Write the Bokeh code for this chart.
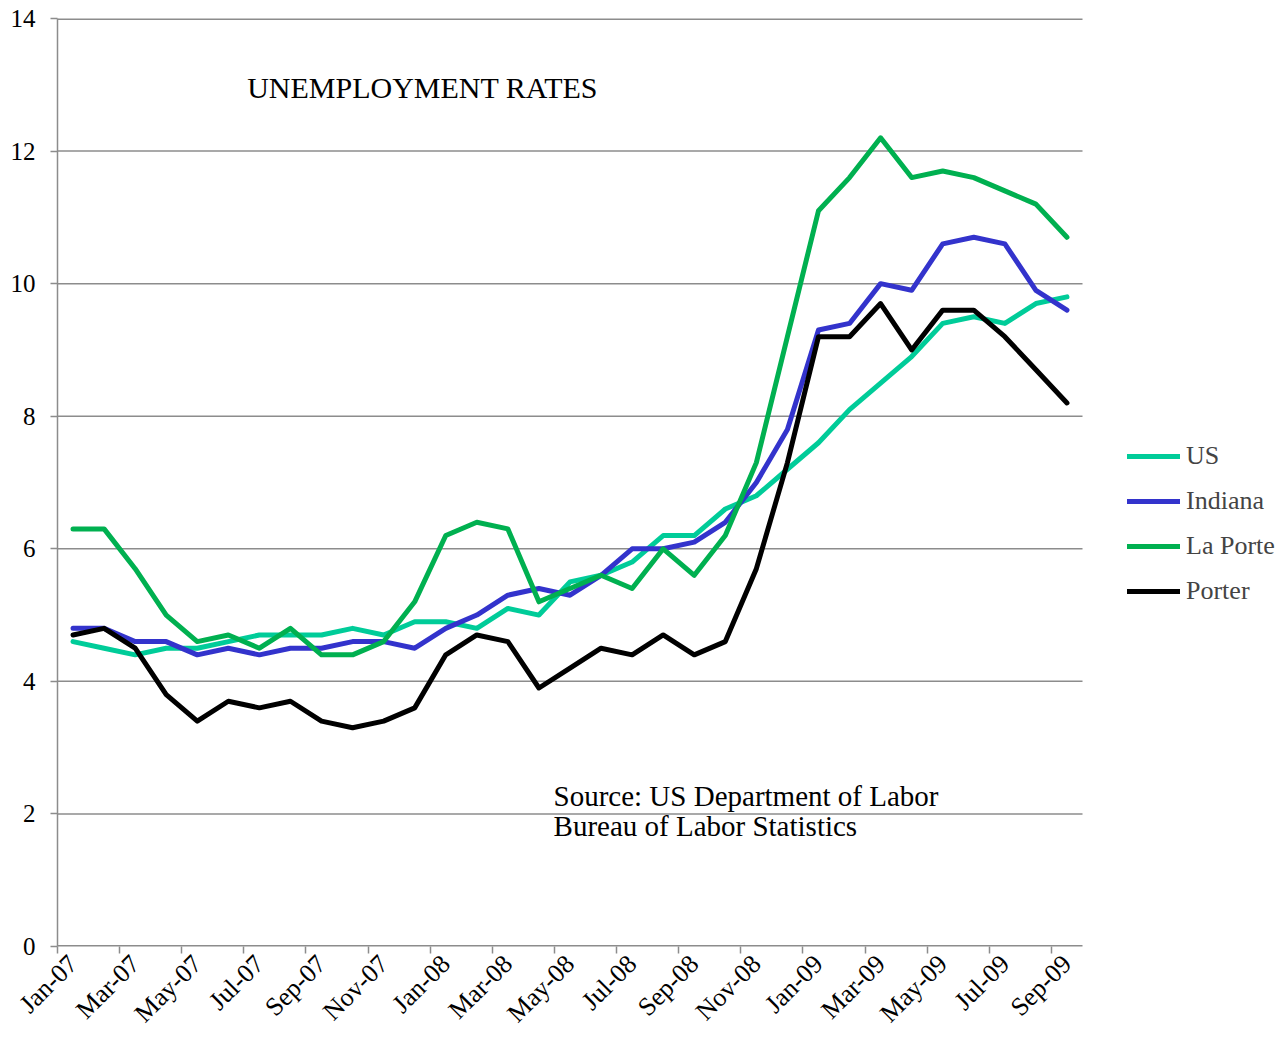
from math import pi
from bokeh.plotting import figure
from bokeh.models import Range1d, FixedTicker, Legend, LegendItem, Label
from bokeh.embed import file_html
from bokeh.resources import INLINE

months = ["Jan-07", "Feb-07", "Mar-07", "Apr-07", "May-07", "Jun-07", "Jul-07", "Aug-07",
          "Sep-07", "Oct-07", "Nov-07", "Dec-07", "Jan-08", "Feb-08", "Mar-08", "Apr-08",
          "May-08", "Jun-08", "Jul-08", "Aug-08", "Sep-08", "Oct-08", "Nov-08", "Dec-08",
          "Jan-09", "Feb-09", "Mar-09", "Apr-09", "May-09", "Jun-09", "Jul-09", "Aug-09",
          "Sep-09"]
us = [4.6, 4.5, 4.4, 4.5, 4.5, 4.6, 4.7, 4.7, 4.7, 4.8, 4.7, 4.9, 4.9, 4.8, 5.1, 5.0,
      5.5, 5.6, 5.8, 6.2, 6.2, 6.6, 6.8, 7.2, 7.6, 8.1, 8.5, 8.9, 9.4, 9.5, 9.4, 9.7, 9.8]
indiana = [4.8, 4.8, 4.6, 4.6, 4.4, 4.5, 4.4, 4.5, 4.5, 4.6, 4.6, 4.5, 4.8, 5.0, 5.3, 5.4,
           5.3, 5.6, 6.0, 6.0, 6.1, 6.4, 7.0, 7.8, 9.3, 9.4, 10.0, 9.9, 10.6, 10.7, 10.6, 9.9, 9.6]
la_porte = [6.3, 6.3, 5.7, 5.0, 4.6, 4.7, 4.5, 4.8, 4.4, 4.4, 4.6, 5.2, 6.2, 6.4, 6.3, 5.2,
            5.4, 5.6, 5.4, 6.0, 5.6, 6.2, 7.3, 9.2, 11.1, 11.6, 12.2, 11.6, 11.7, 11.6, 11.4, 11.2, 10.7]
porter = [4.7, 4.8, 4.5, 3.8, 3.4, 3.7, 3.6, 3.7, 3.4, 3.3, 3.4, 3.6, 4.4, 4.7, 4.6, 3.9,
          4.2, 4.5, 4.4, 4.7, 4.4, 4.6, 5.7, 7.3, 9.2, 9.2, 9.7, 9.0, 9.6, 9.6, 9.2, 8.7, 8.2]
series_names = ["US", "Indiana", "La Porte", "Porter"]
y_ticks = [0, 2, 4, 6, 8, 10, 12, 14]

FONT = "Liberation Serif"
GRID = "#8c8c8c"
colors = ["#00CC99", "#3333CC", "#00B050", "#000000"]

n = len(months)
xs = list(range(n))

# plot area: 57..1082 px for the 33 categories; frame extended to the right edge
LEFT = 57
PX_PER_CAT = (1082 - LEFT) / n
FRAME_W = 1281 - LEFT
x_end = -0.5 + FRAME_W / PX_PER_CAT

p = figure(width=1281, height=1041, output_backend="svg", toolbar_location=None,
           x_range=Range1d(-0.5, x_end), y_range=Range1d(0, 14),
           min_border_left=LEFT, min_border_right=0, min_border_top=18, min_border_bottom=94)
p.outline_line_color = None
p.background_fill_color = "white"

# horizontal gridlines limited to the category span
grid_w = [3 if t in (y_ticks[0], y_ticks[-1]) else 1.5 for t in y_ticks]
p.segment(x0=[-0.5] * len(y_ticks), x1=[n - 0.5] * len(y_ticks), y0=y_ticks, y1=y_ticks,
          line_color=GRID, line_width=grid_w)

# y axis
p.yaxis.ticker = FixedTicker(ticks=y_ticks)
p.yaxis.axis_line_color = GRID
p.yaxis.axis_line_width = 1.5
p.yaxis.major_tick_line_color = GRID
p.yaxis.major_tick_line_width = 1.5
p.yaxis.major_tick_out = 7
p.yaxis.major_tick_in = 0
p.yaxis.minor_tick_line_color = None
p.yaxis.major_label_text_font = FONT
p.yaxis.major_label_text_font_size = "25px"
p.yaxis.major_label_text_color = "black"
p.yaxis.major_label_standoff = 15
p.ygrid.grid_line_color = None
p.xgrid.grid_line_color = None

# x axis
p.xaxis.ticker = FixedTicker(ticks=xs[::2], minor_ticks=[i - 0.5 for i in xs[::2]])
p.xaxis.major_label_overrides = {i: months[i] for i in xs[::2]}
p.xaxis.major_label_orientation = pi / 4
p.xaxis.major_label_text_font = FONT
p.xaxis.major_label_text_font_size = "26px"
p.xaxis.major_label_text_color = "black"
p.xaxis.major_label_standoff = 6
p.xaxis.major_tick_line_color = None
p.xaxis.minor_tick_line_color = GRID
p.xaxis.minor_tick_line_width = 1.5
p.xaxis.minor_tick_out = 7
p.xaxis.minor_tick_in = 0
p.xaxis.axis_line_color = None

renderers = []
for name, vals, c in zip(series_names, [us, indiana, la_porte, porter], colors):
    r = p.line(xs, vals, line_color=c, line_width=5, line_join="round", line_cap="round")
    renderers.append((name, r))

legend = Legend(items=[LegendItem(label=nm, renderers=[r]) for nm, r in renderers],
                location=(1070, 340), orientation="vertical",
                glyph_width=53, glyph_height=30, label_height=30, spacing=15,
                label_standoff=6, padding=0, margin=0,
                label_text_font=FONT, label_text_font_size="26px",
                border_line_color=None, background_fill_alpha=0)
p.add_layout(legend)

p.add_layout(Label(x=5.607, y=12.954, text="UNEMPLOYMENT RATES", text_font=FONT,
                   text_font_size="30px", text_baseline="alphabetic", text_color="black"))
p.add_layout(Label(x=15.47, y=2.264, text="Source: US Department of Labor", text_font=FONT,
                   text_font_size="29px", text_baseline="alphabetic", text_color="black"))
p.add_layout(Label(x=15.47, y=1.812, text="Bureau of Labor Statistics", text_font=FONT,
                   text_font_size="29px", text_baseline="alphabetic", text_color="black"))

open("out.html", "w").write(file_html(p, INLINE))
